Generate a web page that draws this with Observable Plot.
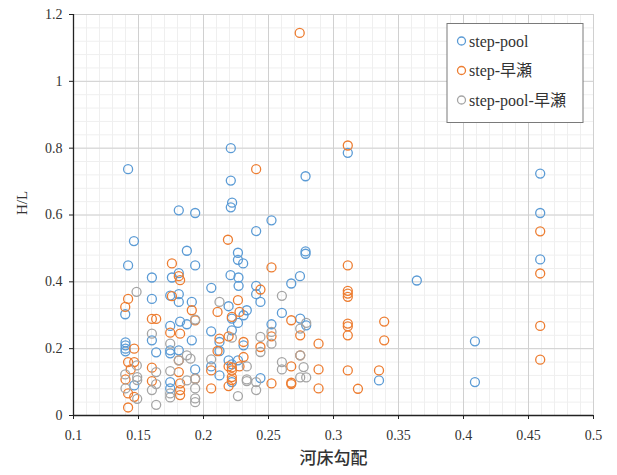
<!DOCTYPE html>
<html>
<head>
<meta charset="utf-8">
<script src="https://cdn.jsdelivr.net/npm/d3@7"></script>
<script src="https://cdn.jsdelivr.net/npm/@observablehq/plot@0.6"></script>
<style>
  html, body { margin: 0; padding: 0; background: #fff; }
  #chart { position: relative; width: 617px; height: 475px; font-family: "Liberation Serif", serif; }
</style>
</head>
<body>
<div id="chart"></div>
<script>
const seriesNames = ["step-pool", "step-早瀬", "step-pool-早瀬"];
const seriesColors = ["#5B9BD5", "#ED7D31", "#A5A5A5"];
const xTicks = [0.1, 0.15, 0.2, 0.25, 0.3, 0.35, 0.4, 0.45, 0.5];
const yTicks = [0, 0.2, 0.4, 0.6, 0.8, 1, 1.2];
const xTitle = "河床勾配";
const yTitle = "H/L";

// step-pool
const poolX = [0.221,0.311,0.142,0.2785,0.459,0.221,0.222,0.221,0.181,0.1936,0.459,0.2523,0.2405,0.1465,0.1872,0.2785,0.2785,0.2265,0.2265,0.459,0.2305,0.142,0.1936,0.1603,0.1757,0.181,0.2208,0.2269,0.2742,0.3641,0.2675,0.206,0.227,0.2405,0.1603,0.1744,0.181,0.181,0.191,0.2405,0.2438,0.1398,0.2193,0.2333,0.2308,0.2218,0.2603,0.2744,0.279,0.2265,0.1744,0.182,0.1872,0.2523,0.2059,0.2218,0.1603,0.191,0.2123,0.14,0.14,0.14,0.14,0.2308,0.1636,0.1744,0.1744,0.181,0.2123,0.2193,0.2265,0.2218,0.2059,0.1936,0.2123,0.2438,0.2218,0.1744,0.1744,0.1467,0.335,0.4088,0.4088];
const poolY = [0.800,0.786,0.737,0.716,0.724,0.703,0.637,0.623,0.614,0.606,0.606,0.584,0.552,0.522,0.493,0.491,0.484,0.487,0.466,0.467,0.455,0.449,0.449,0.413,0.413,0.426,0.42,0.413,0.417,0.404,0.395,0.382,0.388,0.388,0.349,0.359,0.363,0.34,0.34,0.363,0.34,0.303,0.327,0.315,0.3,0.29,0.307,0.29,0.27,0.277,0.268,0.281,0.273,0.273,0.252,0.255,0.225,0.225,0.22,0.219,0.21,0.2,0.192,0.21,0.189,0.195,0.186,0.195,0.193,0.165,0.165,0.153,0.147,0.138,0.12,0.112,0.1,0.1,0.081,0.09,0.105,0.222,0.1];

// step-早瀬
const rapidX = [0.274,0.311,0.2405,0.2188,0.459,0.1757,0.2523,0.311,0.459,0.181,0.182,0.2438,0.311,0.311,0.311,0.142,0.1757,0.2265,0.1398,0.191,0.2108,0.2277,0.2218,0.1603,0.1636,0.1936,0.2675,0.339,0.311,0.311,0.459,0.1744,0.182,0.2744,0.311,0.2123,0.2193,0.2523,0.339,0.2308,0.2885,0.2438,0.1467,0.2108,0.2744,0.2308,0.459,0.142,0.1467,0.181,0.2193,0.2277,0.2218,0.2218,0.2675,0.1603,0.144,0.2059,0.2885,0.311,0.335,0.181,0.2218,0.2218,0.1936,0.14,0.1603,0.182,0.2523,0.2675,0.2675,0.2193,0.2059,0.2885,0.3188,0.182,0.182,0.142,0.1467,0.142];
const rapidY = [1.145,0.808,0.737,0.526,0.551,0.455,0.443,0.449,0.425,0.417,0.405,0.377,0.373,0.365,0.355,0.349,0.357,0.345,0.325,0.315,0.31,0.31,0.295,0.289,0.289,0.285,0.285,0.281,0.275,0.267,0.268,0.248,0.245,0.24,0.24,0.23,0.237,0.237,0.225,0.22,0.215,0.205,0.2,0.193,0.18,0.175,0.167,0.16,0.16,0.165,0.147,0.147,0.144,0.135,0.147,0.143,0.138,0.135,0.138,0.135,0.135,0.13,0.115,0.106,0.11,0.108,0.103,0.096,0.096,0.098,0.094,0.088,0.081,0.081,0.08,0.076,0.061,0.066,0.056,0.024];

// step-pool-早瀬
const mixX = [0.1485,0.2603,0.2123,0.1936,0.279,0.2744,0.2523,0.1603,0.2438,0.2218,0.1744,0.2523,0.2438,0.1872,0.2744,0.181,0.2059,0.2603,0.1487,0.2333,0.277,0.2603,0.1744,0.1636,0.1398,0.149,0.2744,0.279,0.149,0.1936,0.1872,0.2333,0.2333,0.2405,0.1636,0.14,0.1936,0.1603,0.2405,0.1744,0.1744,0.2265,0.149,0.1936,0.1636,0.1936,0.19];
const mixY = [0.37,0.358,0.34,0.287,0.277,0.26,0.25,0.245,0.235,0.233,0.215,0.215,0.19,0.18,0.18,0.165,0.168,0.16,0.15,0.147,0.145,0.138,0.133,0.13,0.123,0.115,0.114,0.114,0.106,0.11,0.105,0.108,0.103,0.1,0.094,0.081,0.081,0.076,0.076,0.066,0.054,0.058,0.05,0.051,0.032,0.04,0.17];

const toRows = (xs, ys) => xs.map((x, i) => ({x, y: ys[i]}));
const pool = toRows(poolX, poolY);
const rapid = toRows(rapidX, rapidY);
const mix = toRows(mixX, mixY);

const xMinor = d3.range(0.1, 0.5001, 0.01);
const yMinor = d3.range(0, 1.2001, 0.04);
const serif = "Liberation Serif";

const plot = Plot.plot({
  width: 617,
  height: 475,
  marginLeft: 73,
  marginRight: 24,
  marginTop: 14,
  marginBottom: 60,
  style: {fontFamily: serif, fontSize: "14px", color: "#333", background: "#fff"},
  x: {domain: [0.1, 0.5]},
  y: {domain: [0, 1.2]},
  marks: [
    Plot.ruleX(xMinor, {stroke: "#efefef", strokeWidth: 1}),
    Plot.ruleY(yMinor, {stroke: "#efefef", strokeWidth: 1}),
    Plot.ruleX(xTicks, {stroke: "#d0d0d0", strokeWidth: 1}),
    Plot.ruleY(yTicks, {stroke: "#d0d0d0", strokeWidth: 1}),
    Plot.axisX({ticks: xTicks, tickSize: 4, tickPadding: 11, tickFormat: d => String(+d.toFixed(2)), label: null, stroke: "#222", fill: "#333", fontSize: 14, fontFamily: serif}),
    Plot.axisY({ticks: yTicks, tickSize: 4, tickPadding: 7, tickFormat: d => String(+d.toFixed(1)), label: null, stroke: "#222", fill: "#333", fontSize: 14, fontFamily: serif}),
    Plot.ruleY([0], {stroke: "#222", strokeWidth: 1.3}),
    Plot.ruleX([0.1], {stroke: "#222", strokeWidth: 1.3}),
    Plot.dot(pool, {x: "x", y: "y", r: 4.5, stroke: seriesColors[0], strokeWidth: 1.3, fill: "none"}),
    Plot.dot(rapid, {x: "x", y: "y", r: 4.5, stroke: seriesColors[1], strokeWidth: 1.3, fill: "none"}),
    Plot.dot(mix, {x: "x", y: "y", r: 4.5, stroke: seriesColors[2], strokeWidth: 1.3, fill: "none"}),
    Plot.text([xTitle], {frameAnchor: "bottom", dy: 48, fontFamily: "Noto Sans CJK JP", fontSize: 17, fill: "#333", fontWeight: 500}),
    Plot.text([yTitle], {frameAnchor: "left", dx: -51, rotate: -90, fontFamily: serif, fontSize: 15, fill: "#333"})
  ]
});

document.getElementById("chart").appendChild(plot);

// legend inside the plot area
const svg = d3.select(plot);
const lg = svg.append("g").attr("transform", "translate(447,23.5)").attr("text-anchor", "start");
lg.append("rect").attr("width", 136).attr("height", 99).attr("fill", "#fff").attr("stroke", "#7a7a7a").attr("stroke-width", 1);
seriesNames.forEach((name, i) => {
  const cy = 17.5 + i * 29.5;
  lg.append("circle").attr("cx", 14.5).attr("cy", cy).attr("r", 4).attr("fill", "none")
    .attr("stroke", seriesColors[i]).attr("stroke-width", 1.3);
  lg.append("text").attr("x", 22).attr("y", cy).attr("dy", "0.35em").attr("text-anchor", "start")
    .style("font-family", "'Liberation Serif', 'Noto Sans CJK JP'").attr("font-size", 16).attr("fill", "#333").text(name);
});
</script>
</body>
</html>
